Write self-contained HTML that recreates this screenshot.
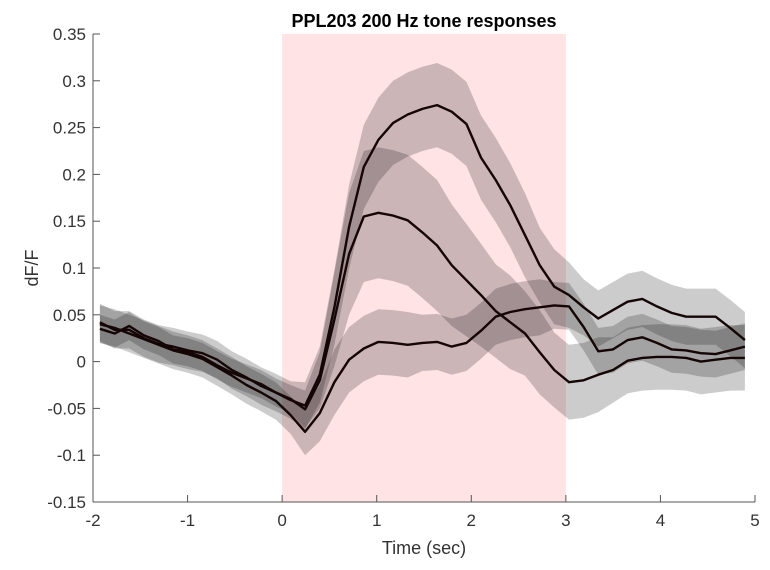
<!DOCTYPE html>
<html><head><meta charset="utf-8"><style>
body{margin:0;background:#fff;}
svg{display:block;font-family:"Liberation Sans",Arial,sans-serif;}
</style></head><body>
<svg id="chart" width="770" height="570" viewBox="0 0 770 570"></svg>
<script>
const xTicks=[-2,-1,0,1,2,3,4,5];
const yTicks=[-0.15,-0.1,-0.05,0,0.05,0.1,0.15,0.2,0.25,0.3,0.35];
const yTickLabels=["-0.15","-0.1","-0.05","0","0.05","0.1","0.15","0.2","0.25","0.3","0.35"];
const stimWindow=[0,3];
const tStart=-1.927, tStep=0.155;
const seriesA=[0.042,0.034,0.034,0.025,0.019,0.016,0.012,0.009,0.002,-0.009,-0.017,-0.026,-0.033,-0.041,-0.047,-0.014,0.058,0.144,0.208,0.237,0.255,0.264,0.270,0.274,0.267,0.254,0.218,0.194,0.167,0.135,0.103,0.080,0.071,0.058,0.046,0.055,0.064,0.067,0.059,0.052,0.048,0.048,0.048,0.036,0.023];
const seriesB=[0.035,0.030,0.038,0.028,0.022,0.013,0.010,0.005,-0.004,-0.012,-0.018,-0.024,-0.033,-0.040,-0.051,-0.020,0.045,0.115,0.155,0.159,0.156,0.151,0.138,0.124,0.103,0.087,0.071,0.054,0.042,0.030,0.010,-0.009,-0.022,-0.020,-0.014,-0.009,0.001,0.004,0.005,0.005,0.004,0.000,0.002,0.004,0.004];
const seriesC=[0.040,0.036,0.030,0.024,0.018,0.012,0.008,0.003,-0.006,-0.015,-0.025,-0.033,-0.042,-0.057,-0.075,-0.055,-0.022,0.002,0.014,0.021,0.020,0.018,0.020,0.021,0.016,0.020,0.033,0.048,0.053,0.056,0.058,0.060,0.059,0.037,0.011,0.013,0.023,0.026,0.020,0.013,0.012,0.009,0.008,0.012,0.016];
const errA=[0.02,0.02,0.02,0.02,0.02,0.02,0.02,0.02,0.02,0.02,0.02,0.02,0.02,0.02,0.025,0.03,0.04,0.045,0.045,0.045,0.045,0.045,0.045,0.045,0.045,0.045,0.045,0.045,0.045,0.045,0.04,0.04,0.035,0.03,0.03,0.03,0.03,0.03,0.03,0.03,0.03,0.03,0.03,0.03,0.03];
const errB=[0.015,0.015,0.015,0.015,0.015,0.015,0.015,0.015,0.015,0.015,0.015,0.015,0.015,0.015,0.02,0.03,0.05,0.065,0.07,0.07,0.07,0.07,0.07,0.07,0.065,0.06,0.055,0.05,0.05,0.045,0.045,0.04,0.04,0.04,0.04,0.035,0.035,0.035,0.035,0.035,0.035,0.035,0.035,0.035,0.035];
const errC=[0.02,0.02,0.02,0.02,0.02,0.02,0.02,0.02,0.02,0.02,0.02,0.02,0.02,0.02,0.025,0.03,0.035,0.035,0.035,0.035,0.035,0.035,0.03,0.03,0.03,0.03,0.03,0.03,0.03,0.03,0.03,0.025,0.025,0.025,0.025,0.025,0.025,0.025,0.025,0.025,0.025,0.025,0.025,0.025,0.025];

const L=93,R=755,T=34,B=502;
const X=t=>L+(t-(-2))/7*(R-L);
const Y=v=>B-(v-(-0.15))/0.5*(B-T);
const NS="http://www.w3.org/2000/svg";
const svg=document.getElementById('chart');
function mk(tag,attrs,parent){const e=document.createElementNS(NS,tag);for(const k in attrs)e.setAttribute(k,attrs[k]);(parent||svg).appendChild(e);return e;}

const stim=mk('rect',{x:X(stimWindow[0]),y:T,width:X(stimWindow[1])-X(stimWindow[0]),height:B-T,fill:'#ffe3e5'});



const series=[[seriesA,errA,'a'],[seriesB,errB,'b'],[seriesC,errC,'c']];
series.forEach(([s,e,n])=>{
  let up=[],dn=[];
  s.forEach((v,i)=>{const t=tStart+i*tStep;up.push(X(t).toFixed(1)+','+Y(v+e[i]).toFixed(1));dn.unshift(X(t).toFixed(1)+','+Y(v-e[i]).toFixed(1));});
  const band=mk('polygon',{points:up.concat(dn).join(' '),fill:'#000','fill-opacity':0.2});
  
  
});
series.forEach(([s,e,n])=>{
  const pts=s.map((v,i)=>X(tStart+i*tStep).toFixed(1)+','+Y(v).toFixed(1)).join(' ');
  const line=mk('polyline',{points:pts,fill:'none',stroke:'#150505','stroke-width':2.4,'stroke-linejoin':'round'});
  
  
});

const ax=mk('g',{});


mk('line',{x1:L,y1:T,x2:L,y2:B,stroke:'#555','stroke-width':1},ax);
mk('line',{x1:L,y1:B,x2:R,y2:B,stroke:'#555','stroke-width':1},ax);
xTicks.forEach(t=>{
  mk('line',{x1:X(t),y1:B,x2:X(t),y2:B-7,stroke:'#555'},ax);
  const tx=mk('text',{x:X(t),y:B+24,'text-anchor':'middle','font-size':17,fill:'#333'},ax);
  tx.textContent=String(t);
  
  
});
yTicks.forEach((v,i)=>{
  mk('line',{x1:L,y1:Y(v),x2:L+7,y2:Y(v),stroke:'#555'},ax);
  const tx=mk('text',{x:L-7,y:Y(v)+6,'text-anchor':'end','font-size':17,fill:'#333'},ax);
  tx.textContent=yTickLabels[i];
  
  
});
const title=mk('text',{x:424,y:27,'text-anchor':'middle','font-size':18,'font-weight':'bold',fill:'#000'});
title.textContent='PPL203 200 Hz tone responses';


const xl=mk('text',{x:424,y:554,'text-anchor':'middle','font-size':18,fill:'#333'});
xl.textContent='Time (sec)';


const yl=mk('text',{x:0,y:0,'text-anchor':'middle','font-size':18,fill:'#333',transform:'translate(38,268) rotate(-90)'});
yl.textContent='dF/F';


</script>
</body></html>
